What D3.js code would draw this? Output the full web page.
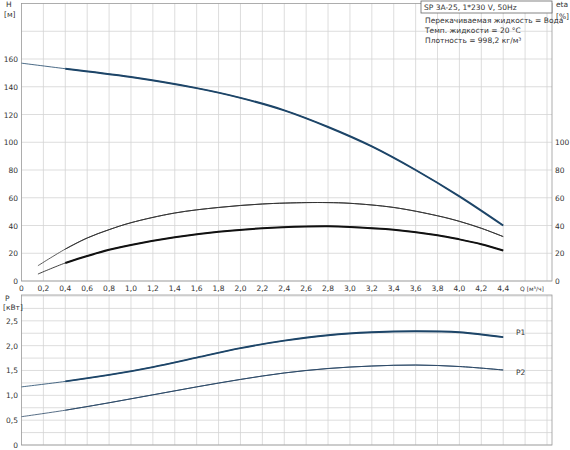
<!DOCTYPE html>
<html><head><meta charset="utf-8">
<script src="https://cdn.jsdelivr.net/npm/d3@7"></script>
<style>body{margin:0;background:#fff}text{font-family:"DejaVu Sans",sans-serif;font-size:7.5px;fill:#333}</style>
</head><body><svg id="c" width="570" height="450"></svg>
<script>
const qH = [0, 0.4, 1.0, 1.6, 2.0, 2.4, 2.8, 3.2, 3.6, 4.0, 4.4];
const hVals = [157, 153, 147, 139, 132, 123, 111, 97, 80, 61, 40];
const qEta = [0.15, 0.4, 0.6, 0.8, 1.0, 1.4, 1.8, 2.2, 2.6, 2.8, 3.0, 3.4, 3.8, 4.0, 4.2, 4.4];
const etaThin = [11, 23, 31, 37, 42, 49, 53, 55.5, 56.5, 56.5, 56, 53, 47, 43, 38, 32];
const etaThick = [5, 13, 18, 22.5, 26, 31.5, 35.5, 38, 39.3, 39.5, 39, 37, 33, 30, 26.5, 22];
const qP = [0, 0.4, 0.8, 1.2, 1.6, 2.0, 2.4, 2.8, 3.2, 3.6, 4.0, 4.4];
const p1 = [1.17, 1.28, 1.41, 1.57, 1.76, 1.95, 2.10, 2.21, 2.27, 2.29, 2.27, 2.17];
const p2 = [0.57, 0.70, 0.85, 1.01, 1.17, 1.32, 1.45, 1.54, 1.59, 1.61, 1.58, 1.51];
const hTicks = [0, 20, 40, 60, 80, 100, 120, 140, 160];
const etaTicks = [0, 20, 40, 60, 80, 100];
const pTicks = [0, 0.5, 1.0, 1.5, 2.0, 2.5];
const qTicks = d3.range(0, 4.41, 0.2);
const info = ["Перекачиваемая жидкость = Вода", "Темп. жидкости = 20 °C", "Плотность = 998,2 кг/м³"];

const svg = d3.select("#c");
const x = d3.scaleLinear().domain([0, 4.8]).range([21.5, 547]);
const xL = 21.5, xR = 552;
const yH = d3.scaleLinear().domain([0, 200]).range([281, 3.5]);
const yP = d3.scaleLinear().domain([0, 3.02]).range([445, 295]);
const fmt = d => d3.format(".1f")(d).replace(".", ",");
const grid = "#d4d4d4";

// grids
[[yH, 281, 3.5, d3.range(0, 181, 20)], [yP, 445, 295, d3.range(0, 3.01, 0.25)]].forEach(([y, b, t, ys]) => {
  const g = svg.append("g");
  g.selectAll(".v").data(d3.range(0.2, 4.81, 0.2)).join("line")
    .attr("x1", x).attr("x2", x).attr("y1", b).attr("y2", t).attr("stroke", grid).attr("stroke-width", 0.8);
  g.selectAll(".h").data(ys).join("line")
    .attr("x1", xL).attr("x2", xR).attr("y1", y).attr("y2", y).attr("stroke", grid).attr("stroke-width", 0.8);
  g.append("rect").attr("x", xL).attr("y", t).attr("width", xR - xL).attr("height", b - t)
    .attr("fill", "none").attr("stroke", "#999").attr("stroke-width", 0.8);
});

// axis labels
svg.selectAll(".ht").data(hTicks).join("text").attr("x", 18).attr("y", d => yH(d) + 3)
  .attr("text-anchor", "end").text(d => d);
svg.selectAll(".et").data(etaTicks).join("text").attr("x", 555).attr("y", d => yH(d) + 3).text(d => d);
svg.selectAll(".pt").data(pTicks).join("text").attr("x", 18).attr("y", d => yP(d) + 3)
  .attr("text-anchor", "end").text(d => d === 0 ? "0" : fmt(d));
svg.selectAll(".qt").data(qTicks).join("text").attr("x", d => x(d)).attr("y", 291)
  .attr("text-anchor", "middle").text(d => d === 0 ? "0" : fmt(d));
svg.append("text").attr("x", 520).attr("y", 291).text("Q [м³/ч]").style("font-size", "6px");
svg.append("text").attr("x", 6).attr("y", 7).text("H");
svg.append("text").attr("x", 4).attr("y", 17).text("[м]");
svg.append("text").attr("x", 556).attr("y", 7).text("eta");
svg.append("text").attr("x", 556).attr("y", 19).text("[%]");
svg.append("text").attr("x", 5).attr("y", 301).text("P");
svg.append("text").attr("x", 3).attr("y", 310).text("[кВт]");

// title box
svg.append("rect").attr("x", 421).attr("y", 1).attr("width", 131).attr("height", 12)
  .attr("fill", "#fff").attr("stroke", "#666").attr("stroke-width", 0.8);
svg.append("text").attr("x", 424).attr("y", 10).text("SP 3A-25, 1*230 V, 50Hz");
svg.selectAll(".inf").data(info).join("text").attr("x", 425).attr("y", (d, i) => 23 + i * 10).text(d => d);

// curves
function curve(qs, vs, y, color, w, from) {
  const pts = qs.map((q, i) => [q, vs[i]]);
  const line = d3.line().x(d => x(d[0])).y(d => y(d[1])).curve(d3.curveCatmullRom.alpha(0.5));
  svg.append("path").attr("d", line(pts)).attr("fill", "none").attr("stroke", color).attr("stroke-width", 0.8);
  svg.append("path").attr("d", line(pts.filter(d => d[0] >= from))).attr("fill", "none")
    .attr("stroke", color).attr("stroke-width", w);
}
curve(qH, hVals, yH, "#1d4568", 2, 0.4);
curve(qEta, etaThin, yH, "#333", 1, 0.4);
curve(qEta, etaThick, yH, "#111", 2, 0.4);
curve(qP, p1, yP, "#1d4568", 1.8, 0.4);
curve(qP, p2, yP, "#2d4a68", 1, 0.4);
svg.append("text").attr("x", 516).attr("y", yP(2.22)).text("P1");
svg.append("text").attr("x", 516).attr("y", yP(1.4)).text("P2");
</script></body></html>
